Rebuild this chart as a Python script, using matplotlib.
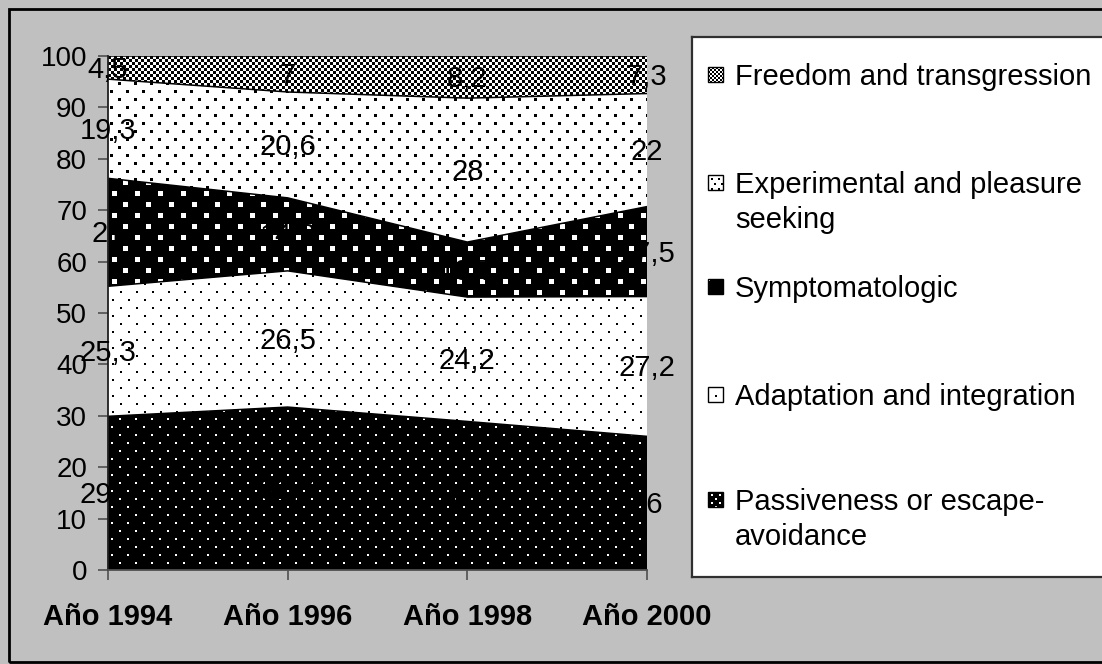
import numpy as np
import matplotlib
matplotlib.use('Agg')
import matplotlib.pyplot as plt
from matplotlib.patches import Rectangle

# ---------------- data ----------------
years = ['Año 1994', 'Año 1996', 'Año 1998', 'Año 2000']
passiveness = [29.9, 31.7, 28.9, 26.0]
adaptation = [25.3, 26.5, 24.2, 27.2]
symptomatologic = [21.0, 14.2, 10.7, 17.5]
experimental = [19.3, 20.6, 28.0, 22.0]
freedom = [4.5, 7.0, 8.2, 7.3]
series_names = ['Passiveness or escape-\navoidance',
                'Adaptation and integration',
                'Symptomatologic',
                'Experimental and pleasure\nseeking',
                'Freedom and transgression']
y_ticks = list(range(0, 101, 10))

plt.rcParams['font.family'] = ['Liberation Sans', 'DejaVu Sans']

W, H, DPI = 1102, 664, 100
fig = plt.figure(figsize=(W / DPI, H / DPI), dpi=DPI, facecolor='#c0c0c0')


def px_rect(l, t, r, b):
    return [l / W, 1 - b / H, (r - l) / W, (b - t) / H]


# ---------------- textures ----------------
BLACK = np.array([0, 0, 0], float)
WHITE = np.array([1, 1, 1], float)


def lattice(h, w, bg, fg, px, py, s, ox=0, oy=0):
    yy, xx = np.mgrid[0:h, 0:w]
    row = (yy - oy) // py
    xs = (xx - ox - (row % 2) * (px // 2)) % px
    ys = (yy - oy) % py
    mask = (xs < s) & (ys < s)
    img = np.empty((h, w, 3))
    img[:] = bg
    img[mask] = fg
    return img


def checker(h, w, c):
    yy, xx = np.mgrid[0:h, 0:w]
    mask = ((yy // c + xx // c) % 2) == 0
    img = np.empty((h, w, 3))
    img[:] = WHITE
    img[mask] = BLACK
    return img


def texture(kind, h, w, small=False):
    if kind == 0:   # passiveness: black with white dots
        return lattice(h, w, BLACK, WHITE, 8 if small else 16, 4 if small else 8, 2, 3, 2)
    if kind == 1:   # adaptation: white with small black dots
        return lattice(h, w, WHITE, BLACK, 16, 8, 2, 4, 3) if not small else lattice(h, w, WHITE, BLACK, 16, 16, 2, 7, 8)
    if kind == 2:   # symptomatologic: black with white squares
        return lattice(h, w, BLACK, WHITE, 23, 11, 5, 4, 3) if not small else lattice(h, w, BLACK, WHITE, 30, 30, 1, 1, 1)
    if kind == 3:   # experimental: white with black squares
        return lattice(h, w, WHITE, BLACK, 16, 8, 3, 2, 2) if not small else lattice(h, w, WHITE, BLACK, 7, 5, 2, 3, 3)
    return checker(h, w, 3 if not small else 2)  # freedom


# ---------------- main axes ----------------
AX_L, AX_T, AX_R, AX_B = 108, 56, 647, 570
ax = fig.add_axes(px_rect(AX_L, AX_T, AX_R, AX_B))
ax.set_facecolor('none')

x = np.arange(len(years))
series = [passiveness, adaptation, symptomatologic, experimental, freedom]
colls = ax.stackplot(x, *series, colors=['none'] * 5, linewidth=0)

aw, ah = AX_R - AX_L, AX_B - AX_T
for k, coll in enumerate(colls):
    tex = texture(k, ah, aw)
    im = ax.imshow(tex, extent=(0, 3, 0, 100), origin='upper',
                   interpolation='nearest', aspect='auto', zorder=1)
    im.set_clip_path(coll.get_paths()[0], ax.transData)

cum = np.cumsum(np.array(series), axis=0)
for k in range(len(series)):
    ax.plot(x, cum[k], color='black', lw=1.1, zorder=2, solid_joinstyle='miter')

bottoms = np.vstack([np.zeros(len(x)), cum[:-1]])
for k, vals in enumerate(series):
    for i, v in enumerate(vals):
        lab = f'{v:g}'.replace('.', ',')
        ax.annotate(lab, (x[i], bottoms[k][i] + v / 2), xytext=(0, -2),
                    textcoords='offset pixels', ha='center', va='center',
                    fontsize=21, color='black', zorder=5, annotation_clip=False)

ax.set_xlim(0, 3)
ax.set_ylim(0, 100)
ax.set_xticks(x)
ax.set_xticklabels(years, fontsize=21, fontweight='bold')
ax.set_yticks(y_ticks)
ax.set_yticklabels([str(t) for t in y_ticks], fontsize=20)
for s in ('top', 'right'):
    ax.spines[s].set_visible(False)
ax.spines['left'].set_color('#202020')
ax.spines['bottom'].set_color('#505050')
ax.spines['left'].set_linewidth(1.3)
ax.spines['bottom'].set_linewidth(1.3)
ax.spines['left'].set_zorder(3)
ax.spines['bottom'].set_zorder(3)
ax.tick_params(axis='y', length=7, width=1.2, color='#505050', pad=8)
ax.tick_params(axis='x', length=7, width=1.2, color='#505050', pad=17)

# ---------------- legend ----------------
LG_L, LG_T, LG_R, LG_B = 692, 37, 1110, 577
lax = fig.add_axes(px_rect(LG_L, LG_T, LG_R, LG_B))
lax.set_xlim(LG_L, LG_R)
lax.set_ylim(LG_B, LG_T)
lax.set_facecolor('white')
lax.set_xticks([])
lax.set_yticks([])
for s in lax.spines.values():
    s.set_color('#303030')
    s.set_linewidth(1.6)

legend_order = [4, 3, 2, 1, 0]
legend_y = [75, 183, 287, 395, 500]
for k, yc in zip(legend_order, legend_y):
    msz = 15
    tex = texture(k, msz, msz, small=True)
    lax.imshow(tex, extent=(716 - msz / 2, 716 + msz / 2, yc + msz / 2, yc - msz / 2),
               origin='upper', interpolation='nearest', aspect='auto', zorder=2)
    lax.add_patch(Rectangle((716 - msz / 2, yc - msz / 2), msz, msz, fill=False,
                            ec='black', lw=1.0, zorder=3))
    lax.text(735, yc - 12, series_names[k], fontsize=21, va='top', ha='left',
             color='black', linespacing=1.3, zorder=4)
lax.set_xlim(LG_L, LG_R)
lax.set_ylim(LG_B, LG_T)

# ---------------- outer frame ----------------
fig.add_artist(Rectangle((9 / W, 1 - 662 / H), (1110 - 9) / W, (662 - 9) / H,
                         fill=False, ec='black', lw=2.0, transform=fig.transFigure))

fig.savefig('out.png', dpi=DPI, facecolor=fig.get_facecolor())
